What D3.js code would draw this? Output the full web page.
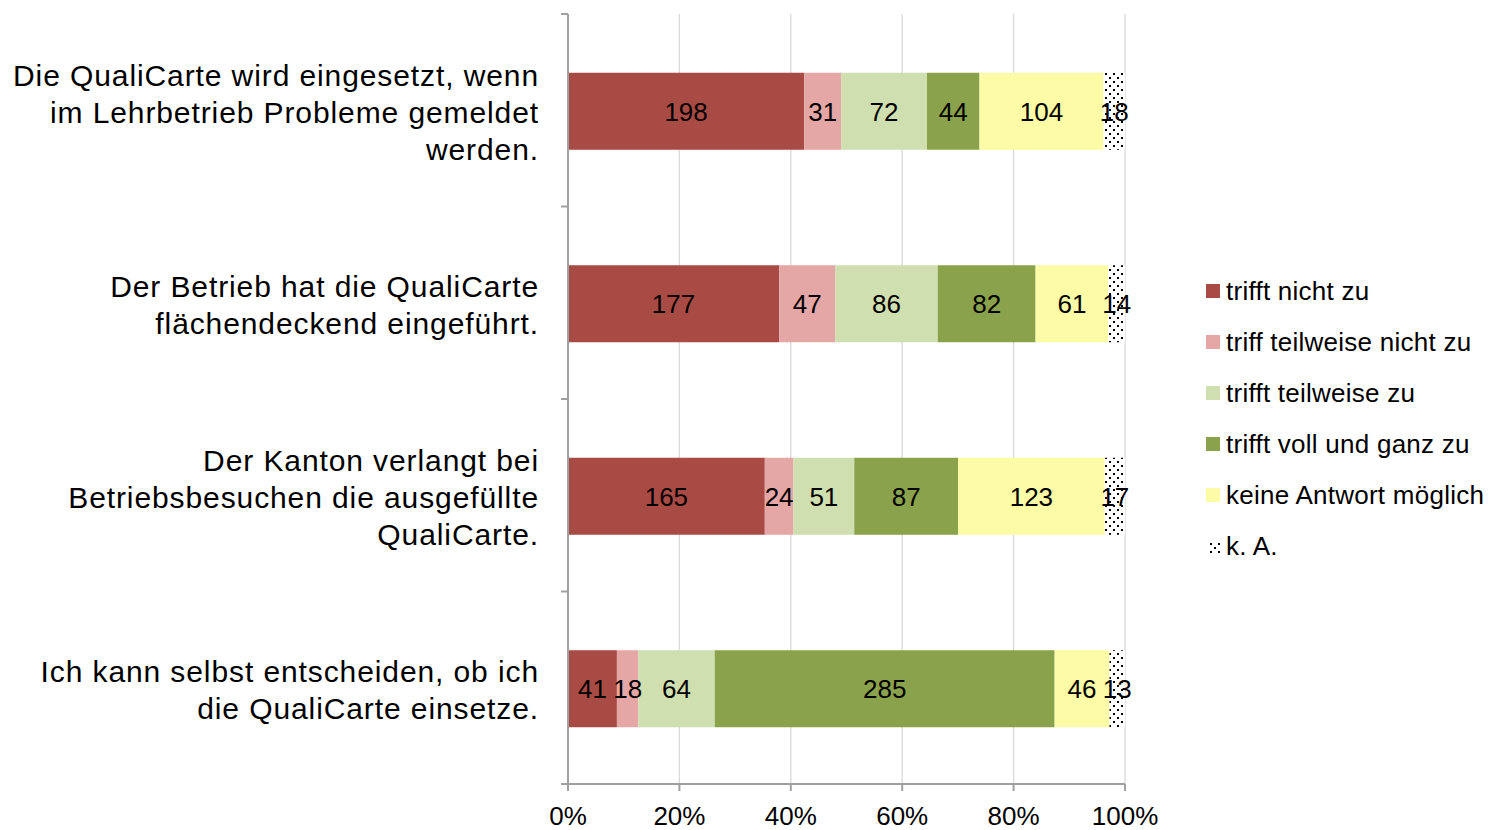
<!DOCTYPE html>
<html><head><meta charset="utf-8">
<script src="https://cdn.jsdelivr.net/npm/d3@7/dist/d3.min.js"></script>
<style>body{margin:0;background:#fff}svg{display:block;font-family:"Liberation Sans",Arial,sans-serif}</style>
</head><body>
<svg id="c" width="1488" height="830"></svg>
<script>
const categories = [
  ["Die QualiCarte wird eingesetzt, wenn","im Lehrbetrieb Probleme gemeldet","werden."],
  ["Der Betrieb hat die QualiCarte","flächendeckend eingeführt."],
  ["Der Kanton verlangt bei","Betriebsbesuchen die ausgefüllte","QualiCarte."],
  ["Ich kann selbst entscheiden, ob ich","die QualiCarte einsetze."]
];
const seriesNames = ["trifft nicht zu","triff teilweise nicht zu","trifft teilweise zu","trifft voll und ganz zu","keine Antwort möglich","k. A."];
const trifftNichtZu = [198,177,165,41];
const teilweiseNichtZu = [31,47,24,18];
const teilweiseZu = [72,86,51,64];
const vollUndGanz = [44,82,87,285];
const keineAntwort = [104,61,123,46];
const kA = [18,14,17,13];
const tickLabels = ["0%","20%","40%","60%","80%","100%"];
const colors = ["#A84B45","#E5A7A5","#D0DFB0","#8BA24C","#FCFCA6","url(#dots)"];

const series = [trifftNichtZu,teilweiseNichtZu,teilweiseZu,vollUndGanz,keineAntwort,kA];
const svg = d3.select("#c");
const defs = svg.append("defs");
const pat = defs.append("pattern").attr("id","dots").attr("patternUnits","userSpaceOnUse").attr("width",8).attr("height",8);
pat.append("rect").attr("width",8).attr("height",8).attr("fill","#fff");
pat.append("rect").attr("x",1).attr("y",1).attr("width",2).attr("height",2).attr("fill","#000");
pat.append("rect").attr("x",5).attr("y",5).attr("width",2).attr("height",2).attr("fill","#000");

const x = d3.scaleLinear().domain([0,1]).range([568,1125]);
const y = d3.scaleBand().domain(d3.range(categories.length)).range([15,785]).paddingInner(0.6).paddingOuter(0.3);
const yb = d3.scaleBand().domain(d3.range(categories.length)).range([14,784]);

// gridlines
svg.append("g").selectAll("line").data(d3.range(0.2,1.01,0.2)).join("line")
  .attr("x1",d=>x(d)).attr("x2",d=>x(d)).attr("y1",14).attr("y2",784)
  .attr("stroke","#d9d9d9").attr("stroke-width",1.3);

// bars
categories.forEach((c,i)=>{
  const vals = series.map(s=>s[i]);
  const total = d3.sum(vals);
  let cum = 0;
  vals.forEach((v,j)=>{
    const x0 = x(cum/total), x1 = x((cum+v)/total);
    svg.append("rect").attr("x",x0).attr("y",y(i)).attr("width",x1-x0).attr("height",y.bandwidth()).attr("fill",colors[j]);
    cum += v;
  });
  cum = 0;
  vals.forEach((v,j)=>{
    const x0 = x(cum/total), x1 = x((cum+v)/total);
    svg.append("text").attr("x",(x0+x1)/2).attr("y",y(i)+y.bandwidth()/2).attr("dy","0.36em")
      .attr("text-anchor","middle").attr("font-size",26).attr("fill","#000").text(v);
    cum += v;
  });
  // category labels
  const cy = yb(i)+yb.bandwidth()/2 + 1.5;
  const lh = 37;
  const n = c.length;
  c.forEach((line,k)=>{
    svg.append("text").attr("x",539).attr("y",cy+(k-(n-1)/2)*lh).attr("dy","0.36em")
      .attr("text-anchor","end").attr("font-size",30).attr("letter-spacing","0.9px").attr("fill","#000").text(line);
  });
});

// axes
const ax = svg.append("g").attr("stroke","#a0a0a0").attr("stroke-width",2);
ax.append("line").attr("x1",568).attr("x2",568).attr("y1",14).attr("y2",784);
ax.append("line").attr("x1",561).attr("x2",1125).attr("y1",784).attr("y2",784);
ax.selectAll(".yt").data(d3.range(categories.length+1)).join("line")
  .attr("x1",561).attr("x2",568)
  .attr("y1",d=>d<categories.length?yb(d):784).attr("y2",d=>d<categories.length?yb(d):784);
ax.selectAll(".xt").data(d3.range(0,1.01,0.2)).join("line")
  .attr("x1",d=>x(d)).attr("x2",d=>x(d)).attr("y1",784).attr("y2",791);
svg.append("g").selectAll("text").data(tickLabels).join("text")
  .attr("x",(d,i)=>x(i/5)).attr("y",825).attr("text-anchor","middle").attr("font-size",26).attr("fill","#000").text(d=>d);

// legend
const lg = svg.append("g");
seriesNames.forEach((name,j)=>{
  const ly = 291 + j*51;
  if (j<5) {
    lg.append("rect").attr("x",1206).attr("y",ly-7).attr("width",14).attr("height",14).attr("fill",colors[j]);
  } else {
    [[1210,ly-3],[1214,ly+1],[1210,ly+5],[1218,ly+5],[1218,ly-3]].forEach(p=>
      lg.append("rect").attr("x",p[0]).attr("y",p[1]).attr("width",2).attr("height",2).attr("fill","#000"));
  }
  lg.append("text").attr("x",1226).attr("y",ly).attr("dy","0.36em").attr("font-size",26).attr("letter-spacing","0.25px").attr("fill","#000").text(name);
});
</script>
</body></html>
